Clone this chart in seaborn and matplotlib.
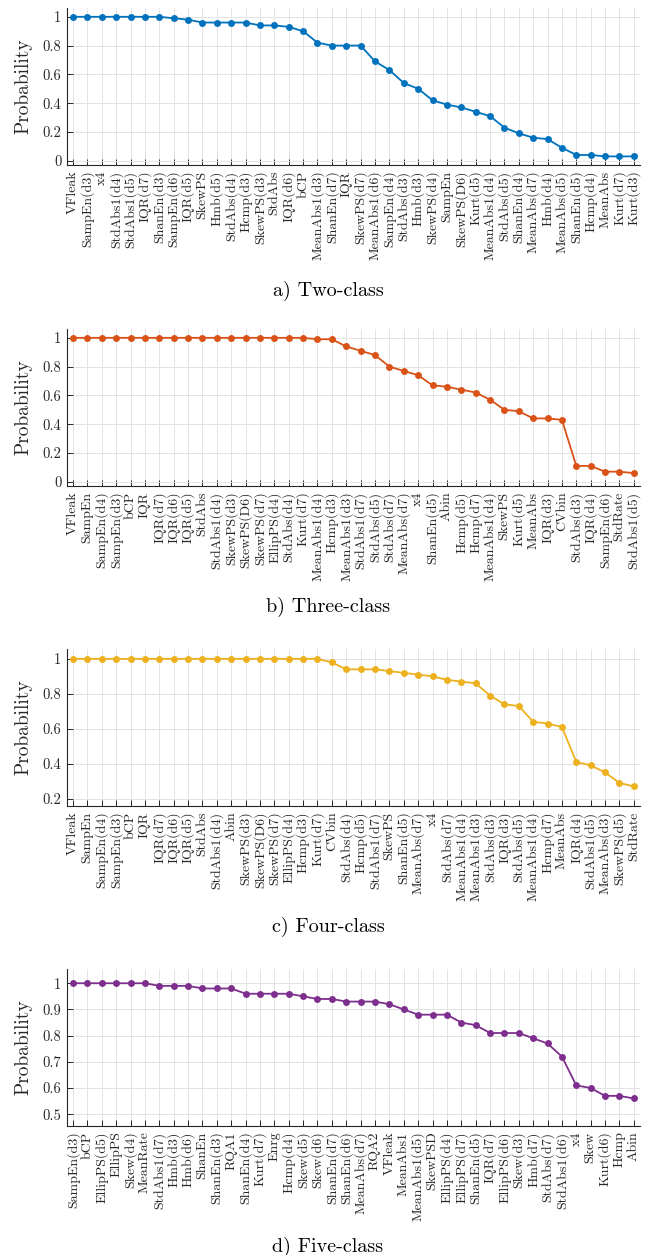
import matplotlib
matplotlib.use("Agg")
import matplotlib.pyplot as plt
import pandas as pd
import seaborn as sns
from matplotlib.ticker import FuncFormatter, MultipleLocator

# Feature selection probabilities, ranked per classification scenario
two_labels = ["VFleak", "SampEn(d3)", "x4", "StdAbs1(d4)", "StdAbs1(d5)", "IQR(d7)",
              "ShanEn(d3)", "SampEn(d6)", "IQR(d5)", "SkewPS", "Hmb(d5)", "StdAbs(d4)",
              "Hcmp(d3)", "SkewPS(d3)", "StdAbs", "IQR(d6)", "bCP", "MeanAbs1(d3)",
              "ShanEn(d7)", "IQR", "SkewPS(d7)", "MeanAbs1(d6)", "SampEn(d4)", "StdAbs(d3)",
              "Hmb(d3)", "SkewPS(d4)", "SampEn", "SkewPS(D6)", "Kurt(d5)", "MeanAbs1(d4)",
              "StdAbs(d5)", "ShanEn(d4)", "MeanAbs(d7)", "Hmb(d4)", "MeanAbs(d5)",
              "ShanEn(d5)", "Hcmp(d4)", "MeanAbs", "Kurt(d7)", "Kurt(d3)"]
two_probs = [1.00, 1.00, 1.00, 1.00, 1.00, 1.00, 1.00, 0.99, 0.98, 0.96,
             0.96, 0.96, 0.96, 0.94, 0.94, 0.93, 0.90, 0.82, 0.80, 0.80,
             0.80, 0.69, 0.63, 0.54, 0.50, 0.42, 0.39, 0.37, 0.34, 0.31,
             0.23, 0.19, 0.16, 0.15, 0.09, 0.04, 0.04, 0.03, 0.03, 0.03]

three_labels = ["VFleak", "SampEn", "SampEn(d4)", "SampEn(d3)", "bCP", "IQR", "IQR(d7)",
                "IQR(d6)", "IQR(d5)", "StdAbs", "StdAbs1(d4)", "SkewPS(d3)", "SkewPS(D6)",
                "SkewPS(d7)", "EllipPS(d4)", "StdAbs(d4)", "Kurt(d7)", "MeanAbs1(d4)",
                "Hcmp(d3)", "MeanAbs1(d3)", "StdAbs1(d7)", "StdAbs(d5)", "StdAbs(d7)",
                "MeanAbs(d7)", "x4", "ShanEn(d5)", "Abin", "Hcmp(d5)", "Hcmp(d7)",
                "MeanAbs1(d4)", "SkewPS", "Kurt(d5)", "MeanAbs", "IQR(d3)", "CVbin",
                "StdAbs(d3)", "IQR(d4)", "SampEn(d6)", "StdRate", "StdAbs1(d5)"]
three_probs = [1.00, 1.00, 1.00, 1.00, 1.00, 1.00, 1.00, 1.00, 1.00, 1.00,
               1.00, 1.00, 1.00, 1.00, 1.00, 1.00, 1.00, 0.99, 0.99, 0.94,
               0.91, 0.88, 0.80, 0.77, 0.74, 0.67, 0.66, 0.64, 0.62, 0.57,
               0.50, 0.49, 0.44, 0.44, 0.43, 0.11, 0.11, 0.07, 0.07, 0.06]

four_labels = ["VFleak", "SampEn", "SampEn(d4)", "SampEn(d3)", "bCP", "IQR", "IQR(d7)",
               "IQR(d6)", "IQR(d5)", "StdAbs", "StdAbs1(d4)", "Abin", "SkewPS(d3)",
               "SkewPS(D6)", "SkewPS(d7)", "EllipPS(d4)", "Hcmp(d3)", "Kurt(d7)", "CVbin",
               "StdAbs(d4)", "Hcmp(d5)", "StdAbs1(d7)", "SkewPS", "ShanEn(d5)",
               "MeanAbs(d7)", "x4", "StdAbs(d7)", "MeanAbs1(d4)", "MeanAbs1(d3)",
               "StdAbs(d3)", "IQR(d3)", "StdAbs(d5)", "MeanAbs1(d4)", "Hcmp(d7)", "MeanAbs",
               "IQR(d4)", "StdAbs1(d5)", "MeanAbs(d3)", "SkewPS(d5)", "StdRate"]
four_probs = [1.00, 1.00, 1.00, 1.00, 1.00, 1.00, 1.00, 1.00, 1.00, 1.00,
              1.00, 1.00, 1.00, 1.00, 1.00, 1.00, 1.00, 1.00, 0.98, 0.94,
              0.94, 0.94, 0.93, 0.92, 0.91, 0.90, 0.88, 0.87, 0.86, 0.79,
              0.74, 0.73, 0.64, 0.63, 0.61, 0.41, 0.39, 0.35, 0.29, 0.27]

five_labels = ["SampEn(d3)", "bCP", "EllipPS(d5)", "EllipPS", "Skew(d4)", "MeanRate",
               "StdAbs1(d7)", "Hmb(d3)", "Hmb(d6)", "ShanEn", "ShanEn(d3)", "RQA1",
               "ShanEn(d4)", "Kurt(d7)", "Enrg", "Hcmp(d4)", "Skew(d5)", "Skew(d6)",
               "ShanEn(d7)", "ShanEn(d6)", "MeanAbs(d7)", "RQA2", "VFleak", "MeanAbs1",
               "MeanAbs1(d5)", "SkewPSD", "EllipPS(d4)", "EllipPS(d7)", "ShanEn(d5)",
               "IQR(d7)", "EllipPS(d6)", "Skew(d3)", "Hmb(d7)", "StdAbs(d7)", "StdAbs1(d6)",
               "x4", "Skew", "Kurt(d6)", "Hcmp", "Abin"]
five_probs = [1.00, 1.00, 1.00, 1.00, 1.00, 1.00, 0.99, 0.99, 0.99, 0.98,
              0.98, 0.98, 0.96, 0.96, 0.96, 0.96, 0.95, 0.94, 0.94, 0.93,
              0.93, 0.93, 0.92, 0.90, 0.88, 0.88, 0.88, 0.85, 0.84, 0.81,
              0.81, 0.81, 0.79, 0.77, 0.72, 0.61, 0.60, 0.57, 0.57, 0.56]

captions = ["a) Two-class", "b) Three-class", "c) Four-class", "d) Five-class"]
colors = ["#0072BD", "#D95319", "#EDB120", "#7E2F8E"]

sns.set_style("ticks")
plt.rcParams["font.family"] = ["cmr10", "DejaVu Serif"]
plt.rcParams["axes.formatter.use_mathtext"] = True
plt.rcParams["mathtext.fontset"] = "cm"

fig = plt.figure(figsize=(6.47, 12.55), dpi=100)

panels = [
    (two_labels, two_probs, (-0.03, 1.06), 0.2, 0.8685, 0.768),
    (three_labels, three_probs, (-0.03, 1.06), 0.2, 0.6127, 0.516),
    (four_labels, four_probs, (0.158, 1.056), 0.2, 0.3578, 0.261),
    (five_labels, five_probs, (0.455, 1.054), 0.1, 0.1028, 0.0066),
]

ink = "#262626"
for (labels, probs, ylim, step, bottom, cap_y), color, caption in zip(panels, colors, captions):
    ax = fig.add_axes([0.1036, bottom, 0.886, 0.125])
    df = pd.DataFrame({"rank": range(len(labels)), "feature": labels, "prob": probs})
    sns.lineplot(data=df, x="rank", y="prob", ax=ax, color=color, marker="o",
                 markersize=5, markeredgewidth=0, linewidth=1.3)
    ax.set_xlim(-0.42, len(labels) - 1 + 0.45)
    ax.set_ylim(*ylim)
    ax.set_xticks(range(len(labels)))
    ax.set_xticklabels(labels, rotation=90, fontsize=10, color=ink)
    ax.yaxis.set_major_locator(MultipleLocator(step))
    ax.yaxis.set_major_formatter(FuncFormatter(lambda v, p: f"{round(v, 2):g}"))
    ax.tick_params(axis="y", labelsize=10.5, colors=ink)
    ax.tick_params(direction="in", length=4, width=0.7, color=ink, pad=4)
    ax.grid(True, color="#e3e3e3", linewidth=0.7)
    ax.set_axisbelow(True)
    for side in ("top", "right"):
        ax.spines[side].set_visible(False)
    for side in ("left", "bottom"):
        ax.spines[side].set_color(ink)
        ax.spines[side].set_linewidth(0.8)
    ax.set_xlabel("")
    ax.set_ylabel("Probability", fontsize=14, color=ink)
    ax.yaxis.set_label_coords(-0.06, 0.5)
    fig.text(0.507, cap_y, caption, ha="center", va="center", fontsize=14.5, color="black")

fig.savefig("out.png", dpi=100)
